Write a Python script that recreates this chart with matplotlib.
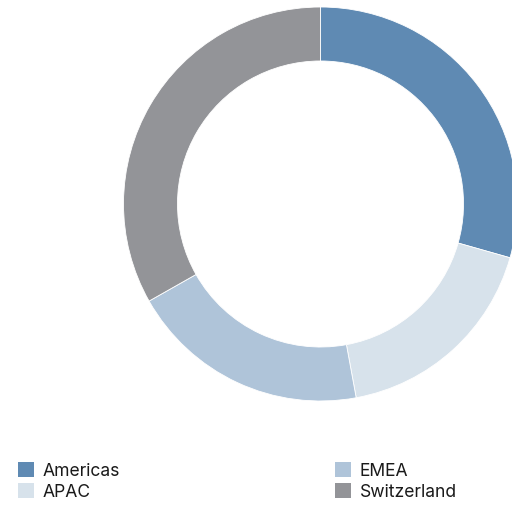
import matplotlib
matplotlib.use("Agg")
import matplotlib.pyplot as plt
from matplotlib.patches import Patch

categories = ["Americas", "APAC", "EMEA", "Switzerland"]
values = [29.4, 17.7, 19.7, 33.2]
colors = ["#5f8ab3", "#d7e2eb", "#afc4d9", "#939498"]

plt.rcParams['font.family'] = ['Inter', 'DejaVu Sans']

W, H = 512, 506
fig = plt.figure(figsize=(W / 100, H / 100), dpi=100)
ax = fig.add_axes([0, 0, 1, 1])
R = 197
ax.pie(values, colors=colors, startangle=90, counterclock=False,
       center=(320.5, H - 205), radius=R,
       wedgeprops=dict(width=R * 0.274, edgecolor="white", linewidth=0.6))
ax.set_xlim(0, W)
ax.set_ylim(0, H)
ax.set_aspect('equal')
ax.axis('off')

fs = 12.6
fpx = fs * 100 / 72
handles = [Patch(facecolor=c, edgecolor='none') for c in colors]
kw = dict(frameon=False, fontsize=fs, handlelength=16 / fpx, handleheight=16 / fpx,
          handletextpad=8.5 / fpx, labelspacing=0.2, borderpad=0, borderaxespad=0,
          loc='upper left', labelcolor='#1a1a1a')
leg1 = fig.legend([handles[0], handles[1]], [categories[0], categories[1]],
                  bbox_to_anchor=(18 / W, 1 - 463 / H), **kw)
leg2 = fig.legend([handles[2], handles[3]], [categories[2], categories[3]],
                  bbox_to_anchor=(335 / W, 1 - 463 / H), **kw)

fig.savefig("out.png", dpi=100)
